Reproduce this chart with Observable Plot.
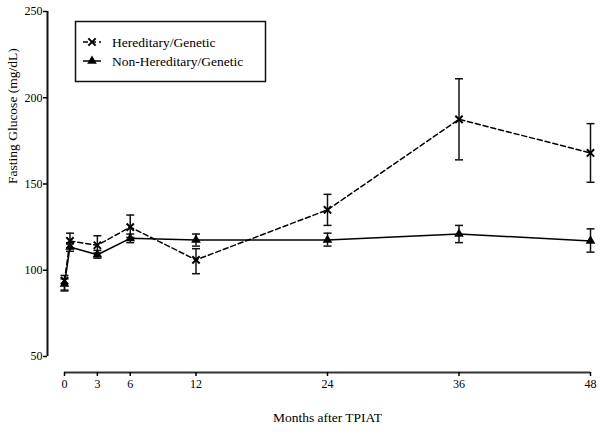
<!DOCTYPE html>
<html>
<head>
<meta charset="utf-8">
<script src="https://cdn.jsdelivr.net/npm/d3@7"></script>
<script src="https://cdn.jsdelivr.net/npm/@observablehq/plot@0.6"></script>
<style>
  html, body { margin: 0; padding: 0; background: #fff; }
  #chart svg { display: block; }
  #chart svg text { font-family: "Liberation Serif", Tinos, "Times New Roman", Times, "Nimbus Roman", "Nimbus Roman No9 L", FreeSerif, "Noto Serif", "DejaVu Serif", serif !important; }
</style>
</head>
<body>
<div id="chart"></div>
<script>
const months = [0, 0.5, 3, 6, 12, 24, 36, 48];
const xTicks = [0, 3, 6, 12, 24, 36, 48];
const yTicks = [50, 100, 150, 200, 250];

const heredMean = [94, 117, 114.5, 125, 106, 135, 187.5, 168];
const heredLow  = [88, 113, 110, 119, 98, 126, 164, 151];
const heredHigh = [97, 121.5, 120, 132, 112.5, 144, 211, 185];

const nonMean = [92, 113.5, 109, 118.5, 117.5, 117.5, 121, 117];
const nonLow  = [88.5, 111, 107, 116, 114, 114, 116, 110.5];
const nonHigh = [95, 116, 111.5, 121, 121, 121.5, 126, 124];

const seriesNames = ["Hereditary/Genetic", "Non-Hereditary/Genetic"];

const heredData = months.map((m, i) => ({month: m, mean: heredMean[i], low: heredLow[i], high: heredHigh[i]}));
const nonData = months.map((m, i) => ({month: m, mean: nonMean[i], low: nonLow[i], high: nonHigh[i]}));

const capSymbol = {
  draw(context, size) {
    const w = Math.sqrt(size / Math.PI);
    context.moveTo(-w, 0);
    context.lineTo(w, 0);
  }
};

function errMarks(data) {
  return [
    Plot.ruleX(data, {x: "month", y1: "low", y2: "high", stroke: "#111", strokeWidth: 1.5}),
    Plot.dot(data, {x: "month", y: "low", symbol: capSymbol, r: 4, stroke: "#111", strokeWidth: 1.5}),
    Plot.dot(data, {x: "month", y: "high", symbol: capSymbol, r: 4, stroke: "#111", strokeWidth: 1.5})
  ];
}

const chart = Plot.plot({
  width: 600,
  height: 434,
  marginLeft: 47,
  marginRight: 10,
  marginTop: 11,
  marginBottom: 62,
  style: {fontSize: "12px", color: "#000", background: "#fff"},
  x: {domain: [0, 48], range: [64, 590], axis: null},
  y: {domain: [50, 250], range: [356, 11], axis: null},
  marks: [
    Plot.ruleX([0], {dx: -17, y1: 50, y2: 250, stroke: "#111", strokeWidth: 2}),
    Plot.ruleY([50], {dy: 16, x1: 0, x2: 48, stroke: "#333", strokeWidth: 2}),
    Plot.axisY({ticks: yTicks, tickSize: 4, tickPadding: 1, tickFormat: d => String(d), label: null, fontSize: 12, strokeWidth: 1.5}),
    Plot.axisX({ticks: xTicks, tickSize: 4, tickPadding: 3, tickFormat: d => String(d), label: null, fontSize: 12, strokeWidth: 1.5}),
    Plot.text([{x: 24}], {x: "x", frameAnchor: "bottom", dy: 49, text: () => "Months after TPIAT", fontSize: 13.5}),
    Plot.text([{y: 150}], {y: "y", frameAnchor: "left", dx: -35, rotate: -90, text: () => "Fasting Glucose (mg/dL)", fontSize: 13.5}),
    ...errMarks(heredData),
    ...errMarks(nonData),
    Plot.line(nonData, {x: "month", y: "mean", stroke: "#000", strokeWidth: 1.5}),
    Plot.line(heredData, {x: "month", y: "mean", stroke: "#000", strokeWidth: 1.5, strokeDasharray: "5,3"}),
    Plot.dot(nonData, {x: "month", y: "mean", symbol: "triangle", r: 3.6, fill: "#000", stroke: "none"}),
    Plot.dot(heredData, {x: "month", y: "mean", symbol: "times", r: 3.4, stroke: "#000", strokeWidth: 2})
  ]
});

document.getElementById("chart").appendChild(chart);

const svg = d3.select(chart);
const lg = svg.append("g").attr("font-size", 13.5).attr("text-anchor", "start");
lg.append("rect").attr("x", 75.5).attr("y", 21.5).attr("width", 190).attr("height", 60)
  .attr("fill", "#fff").attr("stroke", "#111").attr("stroke-width", 1.5);
const items = [
  {y: 42, dash: "5,3", sym: d3.symbolTimes, fill: "none", stroke: "#000"},
  {y: 61, dash: null, sym: d3.symbolTriangle, fill: "#000", stroke: "none"}
];
items.forEach((it, i) => {
  lg.append("line").attr("x1", 83).attr("x2", 101).attr("y1", it.y).attr("y2", it.y)
    .attr("stroke", "#000").attr("stroke-width", 1.5).attr("stroke-dasharray", it.dash);
  const size = i === 0 ? Math.PI * 3.4 * 3.4 : Math.PI * 3.6 * 3.6;
  lg.append("path").attr("d", d3.symbol(it.sym, size)())
    .attr("transform", `translate(92,${it.y})`)
    .attr("fill", it.fill).attr("stroke", it.stroke).attr("stroke-width", 2);
  lg.append("text").attr("x", 112).attr("y", it.y).attr("dy", "0.35em")
    .attr("text-anchor", "start").attr("fill", "#000").text(seriesNames[i]);
});
</script>
</body>
</html>
